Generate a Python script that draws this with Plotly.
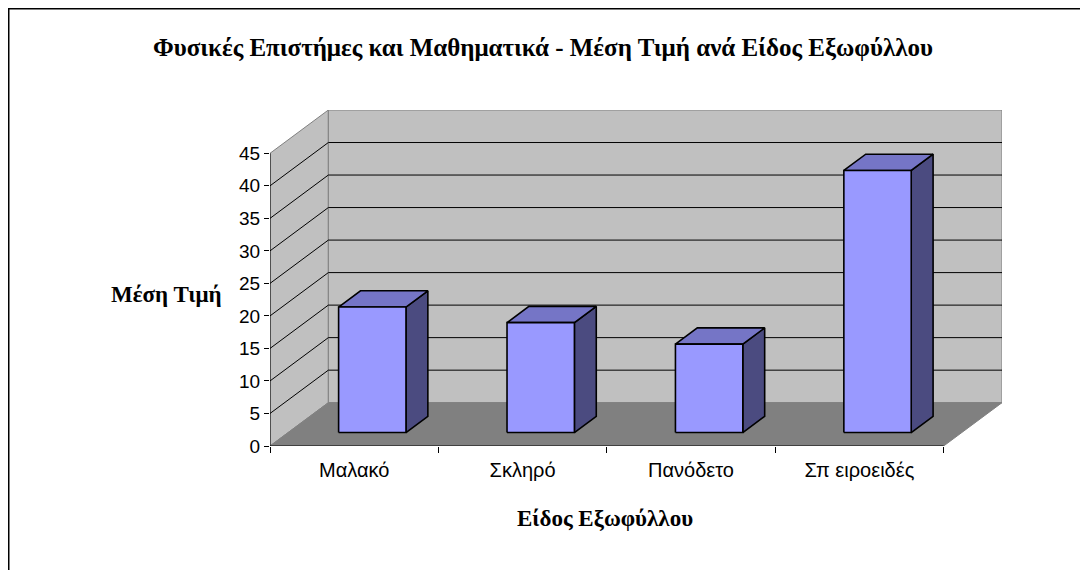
import plotly.graph_objects as go

# ---- data ----
categories = ["Μαλακό", "Σκληρό", "Πανόδετο", "Σπ ειροειδές"]
values = [19.3, 16.9, 13.6, 40.3]
y_ticks = [0, 5, 10, 15, 20, 25, 30, 35, 40, 45]
title_text = "Φυσικές Επιστήμες και Μαθηματικά - Μέση Τιμή ανά Είδος Εξωφύλλου"
x_title = "Είδος Εξωφύλλου"
y_title = "Μέση Τιμή"

# ---- 3D projection settings (in axis units) ----
N = len(categories)
YMAX = 45
DX = 0.3465          # depth offset along x (category units)
DY = 6.66            # depth offset along y (value units)
BAR_W = 0.4
D0, D1 = 0.31, 0.685  # bar front / back depth fractions

FRONT = "#9999FF"
TOP = "#7575C6"
SIDE = "#4B4B80"
WALL = "#C0C0C0"
FLOOR = "#808080"
EDGE = "#808080"

fig = go.Figure()

def poly(xs, ys, fill, line_color, width=1.0):
    fig.add_trace(go.Scatter(
        x=list(xs) + [xs[0]], y=list(ys) + [ys[0]],
        mode="lines", fill="toself", fillcolor=fill,
        line=dict(color=line_color, width=width),
        hoverinfo="skip", showlegend=False))

def line(xs, ys, color, width=1.0):
    fig.add_trace(go.Scatter(x=xs, y=ys, mode="lines",
                             line=dict(color=color, width=width),
                             hoverinfo="skip", showlegend=False))

# walls
poly([0, 0, DX, DX], [0, YMAX, YMAX + DY, DY], WALL, EDGE)
poly([DX, DX, N + DX, N + DX], [DY, YMAX + DY, YMAX + DY, DY], WALL, EDGE)
poly([0, N, N + DX, DX], [0, 0, DY, DY], FLOOR, EDGE)

# gridlines
for v in y_ticks[1:-1]:
    line([0, DX, N + DX], [v, v + DY, v + DY], "black", 1)

# axis lines
line([0, 0], [0, YMAX], "black", 1)
line([0, N], [0, 0], "black", 1)

# bars
for i, v in enumerate(values):
    c = i + 0.5
    x0, x1 = c - BAR_W / 2, c + BAR_W / 2
    fx0, fx1 = x0 + D0 * DX, x1 + D0 * DX
    bx0, bx1 = x0 + D1 * DX, x1 + D1 * DX
    fy0, by0 = D0 * DY, D1 * DY
    poly([fx1, bx1, bx1, fx1], [fy0, by0, v + by0, v + fy0], SIDE, "black", 1.6)
    poly([fx0, fx1, bx1, bx0], [v + fy0, v + fy0, v + by0, v + by0], TOP, "black", 1.6)
    poly([fx0, fx1, fx1, fx0], [fy0, fy0, v + fy0, v + fy0], FRONT, "black", 1.6)

sans = "Arial, Liberation Sans, sans-serif"
serif = "Times New Roman, Liberation Serif, serif"

W, H = 1080, 562
L, R, T, B = 262, 86, 102, 124
PW, PH = W - L - R, H - T - B

def px(xp):  # figure pixel x -> paper
    return (xp - L) / PW

def py(yp):  # figure pixel y -> paper
    return (H - B - yp) / PH

fig.update_layout(
    width=W, height=H,
    margin=dict(l=L, r=R, t=T, b=B, pad=0),
    paper_bgcolor="white", plot_bgcolor="white",
    title=dict(text="<b>" + title_text + "</b>", x=535 / W, xref="container",
               y=1 - 39 / H, yref="container", yanchor="middle", xanchor="center",
               font=dict(family=serif, size=25, color="black")),
    xaxis=dict(range=[0, N + DX], showgrid=False, zeroline=False, showline=False,
               tickvals=[i + 0.5 for i in range(N)], ticktext=categories,
               ticks="", ticklen=0, ticklabelstandoff=10,
               tickfont=dict(family=sans, size=20, color="black"),
               minor=dict(tickvals=list(range(N + 1)), ticks="outside",
                          ticklen=6, tickcolor="black", tickwidth=1, showgrid=False),
               fixedrange=True),
    yaxis=dict(range=[0, YMAX + DY], showgrid=False, zeroline=False, showline=False,
               tickvals=y_ticks, ticks="outside", ticklen=5, tickcolor="black",
               tickfont=dict(family=sans, size=19, color="black"),
               fixedrange=True),
    annotations=[
        dict(text="<b>" + y_title + "</b>", xref="paper", yref="paper",
             x=px(158), y=py(286), showarrow=False,
             xanchor="center", yanchor="middle",
             font=dict(family=serif, size=23, color="black")),
        dict(text="<b>" + x_title + "</b>", xref="paper", yref="paper",
             x=px(597), y=py(511), showarrow=False,
             xanchor="center", yanchor="middle",
             font=dict(family=serif, size=23, color="black")),
    ],
    shapes=[dict(type="rect", xref="paper", yref="paper",
                 x0=px(0.5), x1=px(W + 50), y0=py(H + 50), y1=py(0.5),
                 line=dict(color="black", width=2), fillcolor="rgba(0,0,0,0)")],
)

fig.write_html("out.html")
